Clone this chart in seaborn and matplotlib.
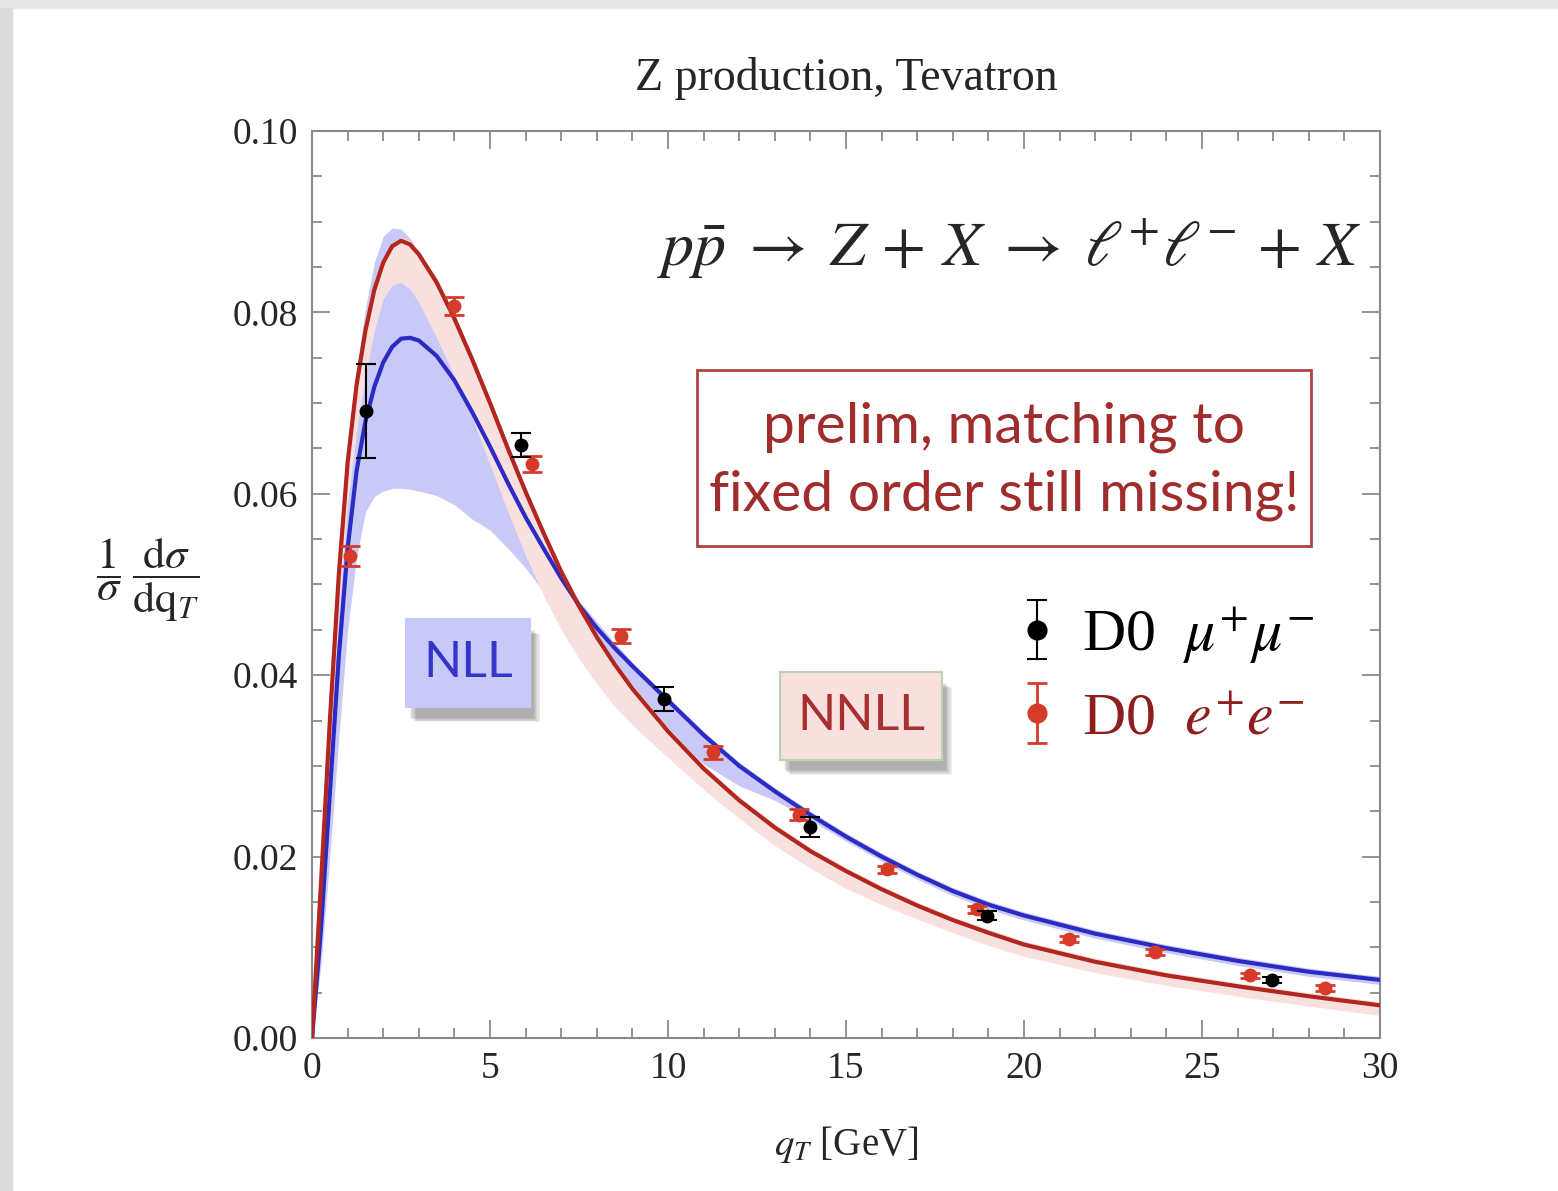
import numpy as np
import pandas as pd
import matplotlib
matplotlib.use("Agg")
import matplotlib.pyplot as plt
import seaborn as sns
from matplotlib.patches import Rectangle
from matplotlib.ticker import MultipleLocator, FormatStrFormatter

# q_T grid the curves were read on (GeV)
qt = [0, 0.25, 0.5, 0.75, 1.0, 1.25, 1.5, 1.75, 2.0, 2.25, 2.5, 2.75, 3.0, 3.5, 4.0,
      4.5, 5.0, 5.5, 6.0, 6.5, 7.0, 7.5, 8.0, 8.5, 9.0, 10, 11, 12, 13, 14, 15, 16,
      17, 18, 19, 20, 22, 24, 26, 28, 30]

# NNLL central curve and band
nnll = [0, 0.017, 0.035, 0.051, 0.0635, 0.072, 0.0780, 0.0825, 0.0855, 0.0873, 0.0879,
        0.0875, 0.0864, 0.0833, 0.0793, 0.0748, 0.0700, 0.0650, 0.0602, 0.0557, 0.0514,
        0.0476, 0.0442, 0.0412, 0.0385, 0.0338, 0.0297, 0.0262, 0.0232, 0.0206, 0.0184,
        0.0164, 0.0146, 0.0130, 0.0116, 0.0103, 0.0084, 0.0069, 0.0057, 0.0046, 0.0036]
nnll_hi = [0, 0.0175, 0.0355, 0.0515, 0.064, 0.0725, 0.0785, 0.0829, 0.0859, 0.0877, 0.0883,
           0.0879, 0.0868, 0.0837, 0.0797, 0.0752, 0.0704, 0.0654, 0.0606, 0.0561, 0.0518,
           0.0480, 0.0446, 0.0416, 0.0389, 0.0342, 0.0301, 0.0266, 0.0236, 0.0210, 0.0188,
           0.0168, 0.0150, 0.0134, 0.0120, 0.0107, 0.0088, 0.0073, 0.0061, 0.0050, 0.0040]
nnll_lo = [0, 0.014, 0.031, 0.047, 0.059, 0.067, 0.0730, 0.0780, 0.0815, 0.0830, 0.0833,
           0.0826, 0.0811, 0.0772, 0.0730, 0.0684, 0.0632, 0.0580, 0.0532, 0.0488, 0.0450,
           0.0418, 0.0390, 0.0366, 0.0345, 0.0309, 0.0274, 0.0242, 0.0212, 0.0187, 0.0165,
           0.0147, 0.0131, 0.0116, 0.0102, 0.0090, 0.0072, 0.0058, 0.0046, 0.0035, 0.0025]

# NLL central curve and band
nll = [0, 0.012, 0.027, 0.042, 0.054, 0.0625, 0.0680, 0.0718, 0.0745, 0.0762, 0.0771,
       0.0772, 0.0769, 0.0752, 0.0725, 0.0690, 0.0652, 0.0612, 0.0574, 0.0540, 0.0507,
       0.0477, 0.0452, 0.0430, 0.0410, 0.0372, 0.0334, 0.0300, 0.0272, 0.0246, 0.0222,
       0.0200, 0.0180, 0.0162, 0.0147, 0.0135, 0.0115, 0.0099, 0.0085, 0.0073, 0.0064]
nll_hi = [0, 0.018, 0.036, 0.052, 0.065, 0.0738, 0.0805, 0.0855, 0.0884, 0.0893, 0.0892,
          0.0882, 0.0866, 0.0838, 0.0798, 0.0753, 0.0705, 0.0655, 0.0607, 0.0562, 0.0519,
          0.0482, 0.0459, 0.0436, 0.0414, 0.0376, 0.0338, 0.0304, 0.0276, 0.0250, 0.0226,
          0.0204, 0.0184, 0.0166, 0.0151, 0.0139, 0.0119, 0.0103, 0.0089, 0.0077, 0.0068]
nll_lo = [0, 0.008, 0.020, 0.033, 0.045, 0.053, 0.0580, 0.0597, 0.0603, 0.0606, 0.0606,
          0.0605, 0.0603, 0.0598, 0.0588, 0.0572, 0.0560, 0.0540, 0.0518, 0.0492, 0.0468,
          0.0450, 0.0430, 0.0405, 0.0380, 0.0338, 0.0302, 0.0278, 0.0262, 0.0240, 0.0217,
          0.0195, 0.0175, 0.0157, 0.0142, 0.0130, 0.0110, 0.0094, 0.0080, 0.0068, 0.0059]

# D0 data
ee_qt = [1.07, 3.99, 6.18, 8.68, 11.26, 13.68, 16.15, 18.68, 21.26, 23.68, 26.35, 28.46]
ee_val = [0.0531, 0.0807, 0.0633, 0.0443, 0.0315, 0.0246, 0.0186, 0.0142, 0.0109, 0.0095, 0.0069, 0.0055]
ee_err = [0.0011, 0.0010, 0.0009, 0.0008, 0.0007, 0.0006, 0.0004, 0.0004, 0.0003, 0.0003, 0.0003, 0.0003]

mm_qt = [1.52, 5.87, 9.89, 13.99, 18.96, 26.97]
mm_val = [0.0691, 0.0654, 0.0374, 0.0233, 0.0135, 0.0064]
mm_err = [0.0052, 0.0013, 0.0013, 0.0011, 0.0005, 0.0003]

curves = pd.DataFrame({"qT": qt * 2, "y": nll + nnll,
                       "order": ["NLL"] * len(qt) + ["NNLL"] * len(qt)})

sns.set_theme(style="ticks")
plt.rcParams["font.family"] = ["Liberation Serif", "DejaVu Serif"]
plt.rcParams["mathtext.fontset"] = "stix"

blue_line = "#2b2bc4"
red_line = "#b3261e"
red_pts = "#d63b2a"
blue_band = "#c9c9f8"
pink_band = "#f8e0df"
grey = "#8a8a8a"

fig = plt.figure(figsize=(15.58, 11.91), dpi=100)
fig.patch.set_facecolor("white")
# slide frame bits of the screenshot
fig.patches.append(Rectangle((0, 0.993), 1, 0.007, transform=fig.transFigure,
                             color="#e9e8e4", zorder=0))
fig.patches.append(Rectangle((0, 0), 0.008, 0.993, transform=fig.transFigure,
                             color="#dcdcdc", zorder=0))

ax = fig.add_axes([0.2003, 0.1285, 0.6854, 0.7615])

ax.fill_between(qt, nll_lo, nll_hi, color=blue_band, lw=0, zorder=1)
ax.fill_between(qt, nnll_lo, nnll_hi, color=pink_band, lw=0, zorder=2)
sns.lineplot(data=curves, x="qT", y="y", hue="order", sort=False,
             palette={"NLL": blue_line, "NNLL": red_line}, linewidth=3,
             legend=False, ax=ax, zorder=3)

ee = ax.errorbar(ee_qt, ee_val, yerr=ee_err, fmt="o", color=red_pts, ms=9,
                 capsize=7, elinewidth=2, capthick=2, zorder=5)
mm = ax.errorbar(mm_qt, mm_val, yerr=mm_err, fmt="o", color="black", ms=9,
                 capsize=7, elinewidth=1.5, capthick=1.5, zorder=6)

ax.set_xlim(0, 30)
ax.set_ylim(0, 0.10)
ax.xaxis.set_major_locator(MultipleLocator(5))
ax.xaxis.set_minor_locator(MultipleLocator(1))
ax.yaxis.set_major_locator(MultipleLocator(0.02))
ax.yaxis.set_minor_locator(MultipleLocator(0.005))
ax.yaxis.set_major_formatter(FormatStrFormatter("%.2f"))
ax.tick_params(which="both", direction="in", top=True, right=True, color=grey,
               labelsize=27, width=1.3, pad=10)
ax.tick_params(which="major", length=13)
ax.tick_params(which="minor", length=7)
for s in ax.spines.values():
    s.set_color(grey)
    s.set_linewidth(1.5)

ax.set_xlabel(r"$q_T$ [GeV]", fontsize=28)
ax.xaxis.set_label_coords(0.5, -0.095)
ax.set_ylabel(r"$\dfrac{1}{\sigma}\;\dfrac{\mathrm{d}\sigma}{\mathrm{d}\mathrm{q}_T}$",
              fontsize=32, rotation=0, va="center", ha="center")
ax.yaxis.set_label_coords(-0.154, 0.505)

fig.text(0.543, 0.934, "Z production, Tevatron", fontsize=33, ha="center", va="center")

ax.text(0.983, 0.87,
        r"$p\bar{p}\;\rightarrow\; Z \,+\, X \;\rightarrow\; \ell^{+}\ell^{-} \,+\, X$",
        transform=ax.transAxes, fontsize=46, ha="right", va="center")

# note box
ax.add_patch(Rectangle((0.3605, 0.542), 0.5749, 0.194, transform=ax.transAxes,
                       fill=False, ec="#b24242", lw=2, zorder=7))
ax.text(0.648, 0.636, "prelim, matching to\nfixed order still missing!",
        transform=ax.transAxes, fontsize=41, family="Lato", color="#a02c2c",
        ha="center", va="center", linespacing=1.4, zorder=8)

# NLL / NNLL tags with soft shadows
def tag(x0, y0, w, h, text, fc, ec, tc):
    for k in range(6):
        ax.add_patch(Rectangle((x0 + 0.004 + 0.001 * k, y0 - 0.012 - 0.001 * k), w, h,
                               transform=ax.transAxes, color="black",
                               alpha=0.06, lw=0, zorder=7))
    ax.add_patch(Rectangle((x0, y0), w, h, transform=ax.transAxes, fc=fc, ec=ec,
                           lw=1.5, zorder=8))
    ax.text(x0 + w / 2, y0 + h / 2, text, transform=ax.transAxes, fontsize=36,
            family="Lato", color=tc, ha="center", va="center", zorder=9)

tag(0.0880, 0.365, 0.1161, 0.097, "NLL", blue_band, blue_band, "#3434c8")
tag(0.4382, 0.307, 0.1517, 0.096, "NNLL", pink_band, "#bcd3b0", "#a62f2f")

ax.legend([mm, ee], [r"D0  $\mu^{+}\mu^{-}$", r"D0  $e^{+}e^{-}$"],
          loc="upper left", bbox_to_anchor=(0.634, 0.505), frameon=False,
          fontsize=43, labelcolor=["black", "#8e1f1f"], handlelength=0.8,
          handletextpad=0.35, labelspacing=0.45, borderaxespad=0, markerscale=1.5)

fig.savefig("out.png", dpi=100)
